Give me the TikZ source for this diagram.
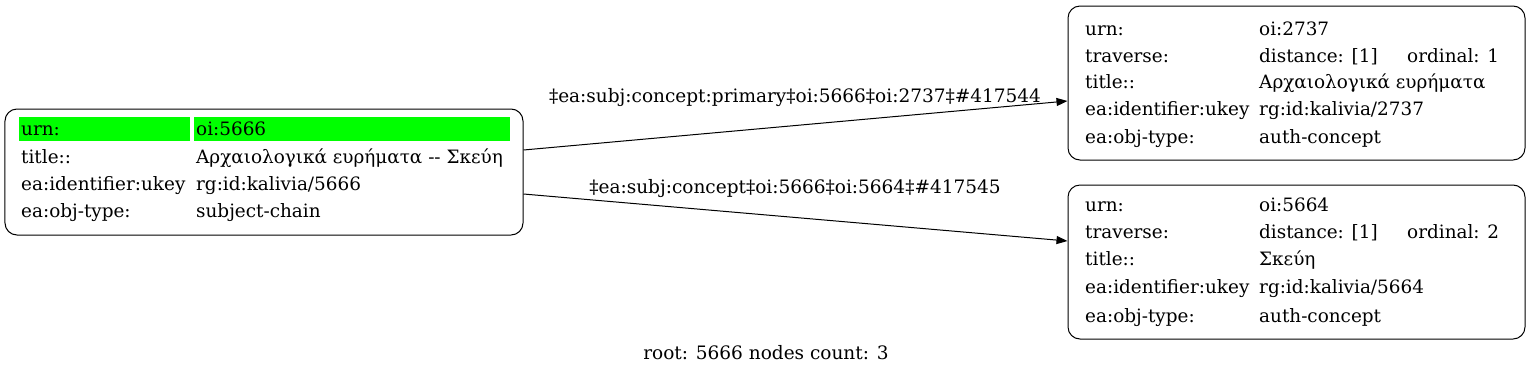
\documentclass[tikz,border=0pt]{standalone}
\usepackage{fontspec}
\setmainfont{DejaVu Serif}
\usetikzlibrary{arrows.meta}
\definecolor{hilite}{RGB}{0,255,0}
\tikzset{
  box/.style={draw, rounded corners=12bp, line width=1bp, inner sep=0, minimum width=#1},
  cell/.style={anchor=base west, inner sep=0, font=\fontsize{18.4bp}{22bp}\selectfont},
  lbl/.style={anchor=base, inner sep=0, font=\fontsize{18.5bp}{22bp}\selectfont},
  edge/.style={line width=1bp, -{Triangle[length=11bp,width=8bp]}},
}
\begin{document}
\begin{tikzpicture}[x=1bp,y=-1bp]
\useasboundingbox (0,0) rectangle (1532,375);
% left node
\node[box=518bp, minimum height=126bp] (L) at (264,172) {};
\fill[hilite] (19,117) rectangle (190,141);
\fill[hilite] (194,117) rectangle (510,141);
\node[cell] (L1a) at (21,135) {urn:};
\node[cell] (L1b) at (196,135) {oi:5666};
\node[cell] (L2a) at (21,163) {title::};
\node[cell] (L2b) at (196,163) {Αρχαιολογικά ευρήματα {-}{-} Σκεύη};
\node[cell] (L3a) at (21,190) {ea:identifier:ukey};
\node[cell] (L3b) at (196,190) {rg:id:kalivia/5666};
\node[cell] (L4a) at (21,217) {ea:obj-type:};
\node[cell] (L4b) at (196,217) {subject-chain};
% top right node
\node[box=457bp, minimum height=154bp] (A) at (1296.5,83) {};
\node[cell] (A1a) at (1085,35) {urn:};
\node[cell] (A1b) at (1259,35) {oi:2737};
\node[cell] (A2a) at (1085,62) {traverse:};
\node[cell] (A2b) at (1259,62) {distance: [1]};
\node[cell] (A2c) at (1407,62) {ordinal: 1};
\node[cell] (A3a) at (1085,88) {title::};
\node[cell] (A3b) at (1259,88) {Αρχαιολογικά ευρήματα};
\node[cell] (A4a) at (1085,115) {ea:identifier:ukey};
\node[cell] (A4b) at (1259,115) {rg:id:kalivia/2737};
\node[cell] (A5a) at (1085,143) {ea:obj-type:};
\node[cell] (A5b) at (1259,143) {auth-concept};
% bottom right node
\node[box=457bp, minimum height=154bp] (B) at (1296.5,262) {};
\node[cell] (B1a) at (1085,211) {urn:};
\node[cell] (B1b) at (1259,211) {oi:5664};
\node[cell] (B2a) at (1085,238) {traverse:};
\node[cell] (B2b) at (1259,238) {distance: [1]};
\node[cell] (B2c) at (1407,238) {ordinal: 2};
\node[cell] (B3a) at (1085,265) {title::};
\node[cell] (B3b) at (1259,265) {Σκεύη};
\node[cell] (B4a) at (1085,293) {ea:identifier:ukey};
\node[cell] (B4b) at (1259,293) {rg:id:kalivia/5664};
\node[cell] (B5a) at (1085,322) {ea:obj-type:};
\node[cell] (B5b) at (1259,322) {auth-concept};
% edges
\draw[edge] ([yshift=22bp]L.east) -- ([yshift=-18bp]A.west);
\draw[edge] ([yshift=-22bp]L.east) -- ([yshift=21bp]B.west);
\node[lbl] (E1) at (795,102) {‡ea:subj:concept:primary‡oi:5666‡oi:2737‡\#417544};
\node[lbl] (E2) at (795,193) {‡ea:subj:concept‡oi:5666‡oi:5664‡\#417545};
% footer
\node[lbl] (F) at (766,359) {root: 5666 nodes count: 3};
\end{tikzpicture}
\end{document}
